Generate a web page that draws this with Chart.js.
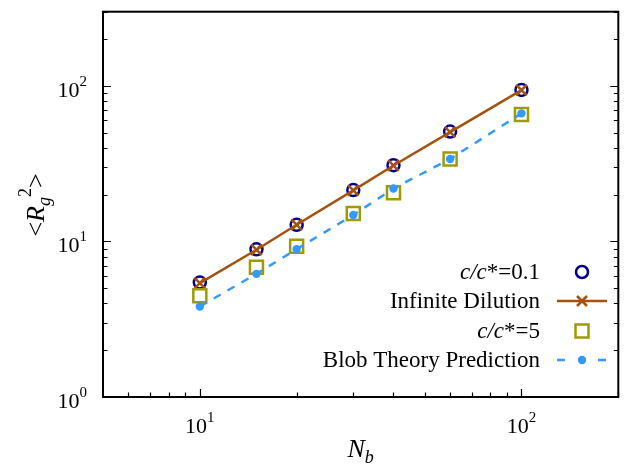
<!DOCTYPE html>
<html><head><meta charset="utf-8">
<script src="https://cdn.jsdelivr.net/npm/chart.js@4"></script>
<style>html,body{margin:0;padding:0;background:#fff}#wrap{width:630px;height:470px}</style>
</head><body><div id="wrap"><canvas id="c" width="630" height="470"></canvas></div>
<script>
// ---- data ----
const chainLengths = [10, 15, 20, 30, 40, 60, 100];
const dilute01 = [5.45, 8.9, 12.8, 21.4, 30.9, 50.9, 94.3];
const infiniteDilution = [5.4, 8.85, 12.8, 21.3, 30.8, 50.5, 94.0];
const semiDilute5 = [4.48, 6.83, 9.3, 15.1, 20.6, 33.9, 65.6];
const blobTheory = [3.82, 6.19, 8.93, 14.8, 21.9, 33.9, 66.6];
const seriesNames = ['c/c*=0.1', 'Infinite Dilution', 'c/c*=5', 'Blob Theory Prediction'];
const xTickValues = [10, 100];
const yTickValues = [1, 10, 100];
const xTickExponents = ['1', '2'];
const yTickExponents = ['0', '1', '2'];
const xRange = [5, 200];
const yRange = [1, 300];

const FONT = '"Liberation Serif","DejaVu Serif",serif';
const NAVY = '#00008b', BROWN = '#a5520e', OLIVE = '#9c9c00', BLUE = '#3399ff';

function pts(ys) { return chainLengths.map((x, i) => ({x: x, y: ys[i]})); }

function drawRich(ctx, segs, x, y, align) {
  let w = 0;
  segs.forEach(s => { ctx.font = (s.it ? 'italic ' : '') + s.size + 'px ' + FONT; s.w = ctx.measureText(s.t).width; w += s.w; });
  let cx = align === 'right' ? x - w : align === 'center' ? x - w / 2 : x;
  ctx.textAlign = 'left'; ctx.textBaseline = 'alphabetic';
  segs.forEach(s => { ctx.font = (s.it ? 'italic ' : '') + s.size + 'px ' + FONT; ctx.fillText(s.t, cx, y + (s.dy || 0)); cx += s.w; });
}

const decorPlugin = {
  id: 'decor',
  afterDatasetsDraw(chart) {
    const ctx = chart.ctx, a = chart.chartArea, xs = chart.scales.x, ys = chart.scales.y;
    ctx.save();
    ctx.fillStyle = '#000'; ctx.strokeStyle = '#000';
    // ticks
    ctx.lineWidth = 1.2;
    const minorX = [], minorY = [];
    [1, 10, 100].forEach(d => { for (let k = 1; k <= 9; k++) { const v = k * d; if (v > xRange[0] && v < xRange[1] + 0.001) minorX.push(v); if (v >= yRange[0] && v <= yRange[1]) minorY.push(v); } });
    ctx.beginPath();
    minorX.forEach(v => { const p = Math.round(xs.getPixelForValue(v)) + 0.5; const L = xTickValues.includes(v) ? 8 : 4.5; ctx.moveTo(p, a.bottom); ctx.lineTo(p, a.bottom - L); });
    minorY.forEach(v => { const p = Math.round(ys.getPixelForValue(v)) + 0.5; const L = yTickValues.includes(v) ? 8 : 4.5; ctx.moveTo(a.left, p); ctx.lineTo(a.left + L, p); ctx.moveTo(a.right, p); ctx.lineTo(a.right - L, p); });
    ctx.stroke();
    // frame
    ctx.lineWidth = 2;
    ctx.strokeRect(a.left, a.top, a.right - a.left, a.bottom - a.top);
    // tick labels
    xTickValues.forEach((v, i) => {
      const p = xs.getPixelForValue(v);
      drawRich(ctx, [{t: '10', size: 22}, {t: xTickExponents[i], size: 15, dy: -11}], p, a.bottom + 36, 'center');
    });
    yTickValues.forEach((v, i) => {
      const p = ys.getPixelForValue(v);
      drawRich(ctx, [{t: '10', size: 22}, {t: yTickExponents[i], size: 15, dy: -11}], a.left - 16, p + 11, 'right');
    });
    // axis titles
    drawRich(ctx, [{t: 'N', size: 26, it: true}, {t: 'b', size: 18, it: true, dy: 6}], (a.left + a.right) / 2, 457, 'center');
    ctx.save();
    ctx.translate(44, 205);
    ctx.rotate(-Math.PI / 2);
    drawRich(ctx, [{t: '<', size: 26}, {t: 'R', size: 26, it: true}, {t: 'g', size: 18, it: true, dy: 6}, {t: '2', size: 18, dy: -13}, {t: '>', size: 26}], 0, 0, 'center');
    ctx.restore();
    // legend
    const tx = 540, sx = 582, rows = [272, 301, 331, 360];
    const FS = 23;
    const labels = [
      [{t: 'c/c', size: FS, it: true}, {t: '*=0.1', size: FS}],
      [{t: seriesNames[1], size: FS}],
      [{t: 'c/c', size: FS, it: true}, {t: '*=5', size: FS}],
      [{t: seriesNames[3], size: FS}]
    ];
    labels.forEach((l, i) => drawRich(ctx, l, tx, rows[i] + 7, 'right'));
    // row 0: circle
    ctx.strokeStyle = NAVY; ctx.lineWidth = 2.5;
    ctx.beginPath(); ctx.arc(sx, rows[0], 6, 0, Math.PI * 2); ctx.stroke();
    // row 1: brown line + cross
    ctx.strokeStyle = BROWN; ctx.lineWidth = 2.5;
    ctx.beginPath(); ctx.moveTo(557, rows[1]); ctx.lineTo(607, rows[1]); ctx.stroke();
    ctx.beginPath(); ctx.moveTo(sx - 5, rows[1] - 5); ctx.lineTo(sx + 5, rows[1] + 5); ctx.moveTo(sx + 5, rows[1] - 5); ctx.lineTo(sx - 5, rows[1] + 5); ctx.stroke();
    // row 2: square
    ctx.strokeStyle = OLIVE; ctx.lineWidth = 2.5;
    ctx.strokeRect(sx - 6.5, rows[2] - 6.5, 13, 13);
    // row 3: dashes + dot
    ctx.strokeStyle = BLUE; ctx.lineWidth = 2.5;
    ctx.beginPath(); ctx.moveTo(557, rows[3]); ctx.lineTo(565, rows[3]); ctx.moveTo(598, rows[3]); ctx.lineTo(606, rows[3]); ctx.stroke();
    ctx.fillStyle = BLUE; ctx.beginPath(); ctx.arc(sx, rows[3], 4.2, 0, Math.PI * 2); ctx.fill();
    ctx.restore();
  }
};

new Chart(document.getElementById('c'), {
  type: 'line',
  data: {
    datasets: [
      {label: seriesNames[0], data: pts(dilute01), showLine: false, pointStyle: 'circle', pointRadius: 6, pointBorderWidth: 2.5, borderColor: NAVY, pointBorderColor: NAVY, pointBackgroundColor: 'rgba(0,0,0,0)', order: 4},
      {label: seriesNames[1], data: pts(infiniteDilution), showLine: true, borderColor: BROWN, borderWidth: 2.5, pointStyle: 'crossRot', pointRadius: 7.5, pointBorderWidth: 2.5, pointBorderColor: BROWN, tension: 0, order: 3},
      {label: seriesNames[2], data: pts(semiDilute5), showLine: false, pointStyle: 'rect', pointRadius: 9.2, pointBorderWidth: 2.5, borderColor: OLIVE, pointBorderColor: OLIVE, pointBackgroundColor: 'rgba(0,0,0,0)', order: 2},
      {label: seriesNames[3], data: pts(blobTheory), showLine: true, borderColor: BLUE, borderWidth: 2.5, borderDash: [8, 8], pointStyle: 'circle', pointRadius: 4.2, pointBorderWidth: 0, pointBackgroundColor: BLUE, tension: 0, order: 1}
    ]
  },
  options: {
    responsive: false, animation: false, devicePixelRatio: 1,
    layout: {padding: {left: 103, right: 8, top: 8, bottom: 73}},
    plugins: {legend: {display: false}, tooltip: {enabled: false}},
    scales: {
      x: {type: 'logarithmic', min: xRange[0], max: xRange[1], display: false},
      y: {type: 'logarithmic', min: yRange[0], max: yRange[1], display: false}
    }
  },
  plugins: [decorPlugin]
});
</script></body></html>
